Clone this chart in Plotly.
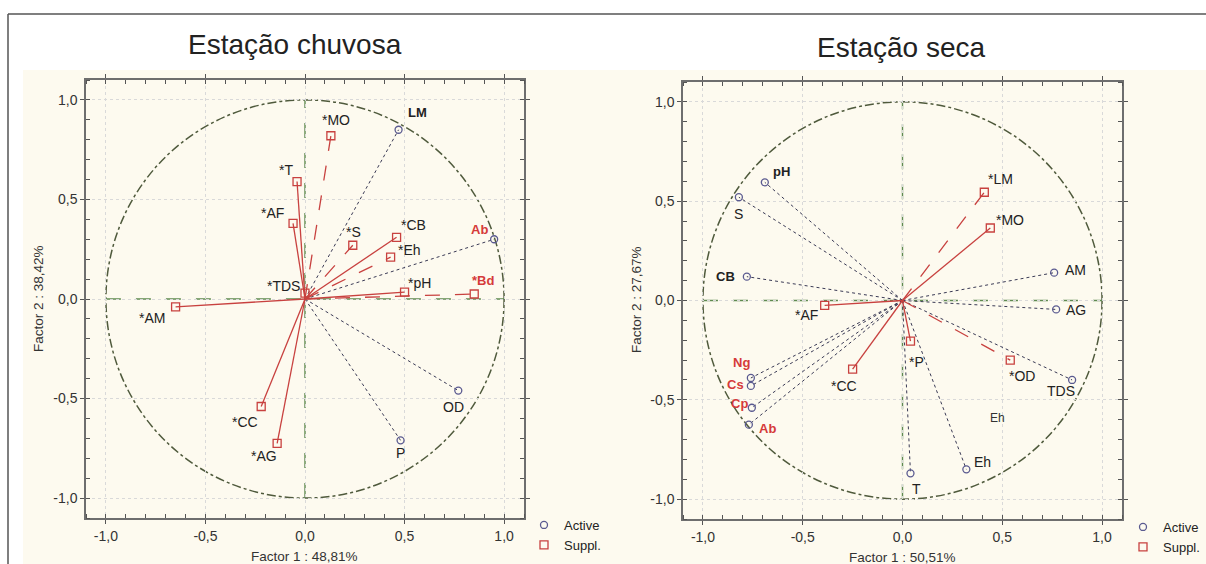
import plotly.graph_objects as go

# ---------------- data ----------------
tick_vals = [-1.0, -0.5, 0.0, 0.5, 1.0]
tick_text = ["-1,0", "-0,5", "0,0", "0,5", "1,0"]

titles = ["Estação chuvosa", "Estação seca"]
x_titles = ["Factor 1 : 48,81%", "Factor 1 : 50,51%"]
y_titles = ["Factor 2 : 38,42%", "Factor 2 : 27,67%"]

left_active_names = ["LM", "Ab", "OD", "P"]
left_active_x = [0.47, 0.95, 0.77, 0.48]
left_active_y = [0.85, 0.30, -0.46, -0.71]

left_suppl_names = ["*MO", "*T", "*AF", "*S", "*CB", "*Eh", "*pH", "*Bd", "*TDS", "*AM", "*CC", "*AG"]
left_suppl_x = [0.13, -0.04, -0.06, 0.24, 0.46, 0.43, 0.50, 0.85, 0.0, -0.65, -0.22, -0.14]
left_suppl_y = [0.82, 0.59, 0.38, 0.27, 0.31, 0.21, 0.035, 0.025, 0.03, -0.04, -0.54, -0.725]

right_active_names = ["pH", "S", "CB", "AM", "AG", "TDS", "Eh", "T", "Ng", "Cs", "Cp", "Ab"]
right_active_x = [-0.69, -0.82, -0.78, 0.76, 0.77, 0.85, 0.32, 0.04, -0.76, -0.76, -0.755, -0.77]
right_active_y = [0.595, 0.52, 0.12, 0.14, -0.045, -0.40, -0.85, -0.87, -0.39, -0.43, -0.54, -0.625]

right_suppl_names = ["*LM", "*MO", "*AF", "*CC", "*P", "*OD"]
right_suppl_x = [0.41, 0.44, -0.39, -0.25, 0.04, 0.54]
right_suppl_y = [0.545, 0.365, -0.025, -0.345, -0.205, -0.30]

extra_label = "Eh"
extra_x = 0.475
extra_y = -0.59

# ---------------- styles ----------------
FONT = "Liberation Sans, Arial"
ACT_COL = "#5a5a90"
ACT_LINE = "#3a3a55"
SUP_COL = "#c8413f"
RED_TXT = "#d53a3a"
TXT = "#222222"

left_suppl_dash = ["longdash", "solid", "solid", "longdash", "solid", "longdash",
                   "solid", "longdash", "solid", "solid", "solid", "solid"]
right_suppl_dash = ["longdash", "solid", "solid", "solid", "solid", "longdash"]

# label offsets in pixels (dx right, dy down)
left_active_off = [(19, -17), (-15, -10), (-5, 16), (0, 13)]
left_active_red = [False, True, False, False]
left_active_bold = [True, True, False, False]
left_suppl_off = [(5, -16), (-11, -12), (-21, -10), (1, -13), (17, -12), (19, -7),
                  (15, -9), (9, -14), (-22, -7), (-24, 11), (-16, 15), (-13, 13)]
left_suppl_red = [False] * 7 + [True] + [False] * 4
left_suppl_bold = [False] * 7 + [True] + [False] * 4

right_active_off = [(17, -11), (0, 17), (-21, 0), (21, -3), (20, 1), (-11, 11),
                    (16, -7), (6, 16), (-9, -15), (-15, -1), (-12, -4), (19, 4)]
right_active_red = [False] * 8 + [True] * 4
right_active_bold = [True, False, True] + [False] * 5 + [True] * 4
right_suppl_off = [(16, -13), (20, -8), (-18, 10), (-9, 17), (6, 21), (12, 16)]
right_suppl_red = [False] * 6
right_suppl_bold = [False] * 6

W, H = 1206, 564

fig = go.Figure()
annotations = []
shapes = []


def panel(ax, act_n, act_x, act_y, act_off, act_red, act_bold,
          sup_n, sup_x, sup_y, sup_dash, sup_off, sup_red, sup_bold, legend_name):
    xr = "x" if ax == 1 else "x2"
    yr = "y" if ax == 1 else "y2"
    for xv, yv in zip(act_x, act_y):
        fig.add_trace(go.Scatter(x=[0, xv], y=[0, yv], mode="lines", xaxis=xr, yaxis=yr,
                                 line=dict(color=ACT_LINE, width=1, dash="dot"),
                                 showlegend=False, hoverinfo="skip"))
    for xv, yv, d in zip(sup_x, sup_y, sup_dash):
        fig.add_trace(go.Scatter(x=[0, xv], y=[0, yv], mode="lines", xaxis=xr, yaxis=yr,
                                 line=dict(color=SUP_COL, width=1.3, dash=d),
                                 showlegend=False, hoverinfo="skip"))
    fig.add_trace(go.Scatter(x=act_x, y=act_y, mode="markers", xaxis=xr, yaxis=yr,
                             name="Active", legend=legend_name,
                             marker=dict(symbol="circle-open", size=7, color=ACT_COL,
                                         line=dict(width=1.3, color=ACT_COL))))
    fig.add_trace(go.Scatter(x=sup_x, y=sup_y, mode="markers", xaxis=xr, yaxis=yr,
                             name="Suppl.", legend=legend_name,
                             marker=dict(symbol="square-open", size=8, color=SUP_COL,
                                         line=dict(width=1.3, color=SUP_COL))))
    for n, xv, yv, (dx, dy), red, bold in zip(act_n + sup_n, act_x + sup_x, act_y + sup_y,
                                              act_off + sup_off, act_red + sup_red,
                                              act_bold + sup_bold):
        annotations.append(dict(x=xv, y=yv, xref=xr, yref=yr,
                                text=f"<b>{n}</b>" if bold else n, showarrow=False,
                                xshift=dx, yshift=-dy, xanchor="center", yanchor="middle",
                                font=dict(family=FONT, size=14 if not bold else 13,
                                          color=RED_TXT if red else TXT)))
    shapes.append(dict(type="circle", xref=xr, yref=yr, x0=-1, x1=1, y0=-1, y1=1,
                       line=dict(color="#4f5a3c", width=1.5, dash="dashdot"), layer="below"))
    shapes.append(dict(type="line", xref=xr, yref=yr, x0=-1, x1=1, y0=0, y1=0,
                       line=dict(color="#5f8a50", width=1.4, dash="longdash"), layer="below"))
    shapes.append(dict(type="line", xref=xr, yref=yr, x0=0, x1=0, y0=-1, y1=1,
                       line=dict(color="#5f8a50", width=1.4, dash="longdash"), layer="below"))


panel(1, left_active_names, left_active_x, left_active_y, left_active_off, left_active_red,
      left_active_bold, left_suppl_names, left_suppl_x, left_suppl_y, left_suppl_dash,
      left_suppl_off, left_suppl_red, left_suppl_bold, "legend")
panel(2, right_active_names, right_active_x, right_active_y, right_active_off, right_active_red,
      right_active_bold, right_suppl_names, right_suppl_x, right_suppl_y, right_suppl_dash,
      right_suppl_off, right_suppl_red, right_suppl_bold, "legend2")

annotations.append(dict(x=extra_x, y=extra_y, xref="x2", yref="y2", text=extra_label,
                        showarrow=False, xanchor="center", yanchor="middle",
                        font=dict(family=FONT, size=12, color="#333333")))

for t, cx, cy in zip(titles, [295, 901], [45, 47]):
    annotations.append(dict(x=cx / W, y=1 - cy / H, xref="paper", yref="paper", text=t,
                            showarrow=False, xanchor="center", yanchor="middle",
                            font=dict(family=FONT, size=28, color="#222222")))
for t, cx, cy in zip(x_titles, [304, 902], [556, 557]):
    annotations.append(dict(x=cx / W, y=1 - cy / H, xref="paper", yref="paper", text=t,
                            showarrow=False, xanchor="center", yanchor="middle",
                            font=dict(family=FONT, size=13.5, color="#333333")))
for t, cx, cy in zip(y_titles, [38, 636], [299, 300]):
    annotations.append(dict(x=cx / W, y=1 - cy / H, xref="paper", yref="paper", text=t,
                            showarrow=False, textangle=-90, xanchor="center",
                            yanchor="middle",
                            font=dict(family=FONT, size=13.5, color="#333333")))

shapes.insert(0, dict(type="rect", xref="paper", yref="paper", x0=23 / W, x1=1.0,
                      y0=0, y1=1 - 70 / H, fillcolor="#fdfaef", line=dict(width=0),
                      layer="below"))
shapes.append(dict(type="line", xref="paper", yref="paper", x0=8 / W, x1=1.0,
                   y0=1 - 14 / H, y1=1 - 14 / H, line=dict(color="#555555", width=1.5)))
shapes.append(dict(type="line", xref="paper", yref="paper", x0=8 / W, x1=8 / W,
                   y0=0, y1=1 - 14 / H, line=dict(color="#555555", width=1.5)))

axis_common = dict(range=[-1.1, 1.1], tickvals=tick_vals, ticktext=tick_text,
                   showgrid=True, gridcolor="#d9d9d9", gridwidth=1, griddash="dot",
                   zeroline=False, showline=True, linecolor="#6e6e6e", linewidth=1.5,
                   mirror="ticks", ticks="outside", ticklen=4, tickcolor="#555555",
                   tickfont=dict(family=FONT, size=14, color="#333333"),
                   minor=dict(ticks="inside", dtick=0.1, ticklen=4, tickcolor="#555555",
                              showgrid=False),
                   fixedrange=True)

legend_style = dict(xanchor="left", yanchor="top", bgcolor="rgba(0,0,0,0)",
                    font=dict(family=FONT, size=13, color="#222222"),
                    itemwidth=30, tracegroupgap=0)

fig.update_layout(
    width=W, height=H, margin=dict(l=0, r=0, t=0, b=0),
    paper_bgcolor="white", plot_bgcolor="white",
    xaxis=dict(domain=[86 / W, 524 / W], anchor="y", **axis_common),
    yaxis=dict(domain=[1 - 518 / H, 1 - 80 / H], anchor="x", **axis_common),
    xaxis2=dict(domain=[683 / W, 1122 / W], anchor="y2", **axis_common),
    yaxis2=dict(domain=[1 - 519 / H, 1 - 82 / H], anchor="x2", **axis_common),
    legend=dict(x=524 / W, y=1 - 510 / H, **legend_style),
    legend2=dict(x=1123 / W, y=1 - 512 / H, **legend_style),
    annotations=annotations, shapes=shapes, showlegend=True,
)

fig.write_html("out.html", config={"displayModeBar": False},
               post_script="document.body.style.margin='0';document.body.style.overflow='hidden';")
